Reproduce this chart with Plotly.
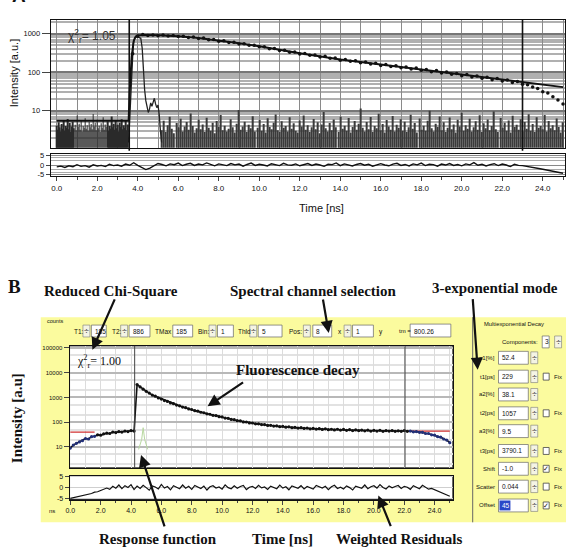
import numpy as np
import plotly.graph_objects as go

W, H = 571, 560
def px(x): return x / W
def py(y): return 1 - y / H

# ================= DATA =================
# ---- Panel A ----
# background counts before the excitation pulse (t = 0.00 .. 3.50, 0.05 ns steps)
a_bg_t = np.round(np.arange(71) * 0.05, 3)
a_bg_counts = [3.1,2.2,4.0,2.7,1.9,3.5,2.4,4.6,2.0,3.0,2.6,5.1,2.3,3.8,1.8,2.9,4.2,2.5,3.3,2.1,
               6.5,2.8,3.6,2.2,4.4,1.9,3.0,2.6,5.4,2.4,3.2,2.0,4.1,2.7,3.5,2.3,7.2,2.9,3.9,2.1,
               4.8,2.5,3.1,1.8,3.7,2.6,5.8,2.2,3.4,2.8,4.3,2.0,3.0,2.4,6.1,2.7,3.6,2.2,4.7,2.5,
               3.3,1.9,3.9,2.8,5.0,2.3,3.2,2.6,4.5,2.1,3.4]
# IRF tail noise (t = 5.2 .. 25, 0.1 ns steps)
a_noise_counts = [2.1,4.5,1.8,3.2,6.0,2.4,1.6,3.8,2.7,5.2,1.9,2.9,4.1,2.2,7.5,3.0,1.7,2.5,4.8,2.3,
                  3.4,1.8,5.6,2.6,2.0,3.9,1.6,4.4,2.8,6.8,2.1,3.1,1.9,2.4,5.0,2.7,1.7,3.6,9.5,2.2,
                  2.9,4.2,1.8,3.3,2.5,6.2,1.9,2.6,4.7,2.0,3.5,1.7,5.4,2.8,2.3,3.9,7.0,2.1,1.8,4.3,
                  2.6,3.0,1.9,5.8,2.4,3.7,2.0,1.7,4.6,2.9,6.5,2.2,3.2,1.8,2.7,5.1,2.3,4.0,1.6,3.4,
                  8.2,2.5,1.9,3.8,2.1,4.9,2.7,1.8,6.0,2.4,3.1,2.0,5.5,1.7,2.8,4.4,2.2,3.6,10.5,2.6,
                  1.9,4.1,2.3,5.9,1.8,3.0,2.5,7.3,2.1,3.5,1.7,4.7,2.9,2.2,6.3,1.9,3.3,2.6,5.0,2.0,
                  4.2,1.8,2.7,6.9,2.4,3.8,1.7,5.3,2.2,3.1,2.0,4.5,9.0,2.5,1.9,3.6,2.8,6.1,2.1,4.0,
                  1.8,2.6,5.7,2.3,3.4,1.7,4.8,2.9,7.8,2.0,3.2,2.4,5.2,1.9,2.7,4.3,2.2,6.6,1.8,3.7,
                  2.5,4.9,2.1,3.0,8.6,2.3,1.8,5.5,2.6,3.9,2.0,4.6,1.7,6.4,2.8,3.3,2.2,5.0,1.9,4.1,
                  2.4,7.1,2.0,3.5,1.8,5.8,2.6,3.0,2.3,6.7,1.9,4.4,2.5,3.2,2.1,5.3,2.8,1.7,4.0]
a_noise_t = np.round(5.2 + np.arange(len(a_noise_counts)) * 0.1, 3)
# instrument response function peak
a_irf_t = [3.55,3.65,3.72,3.78,3.85,3.95,4.05,4.15,4.22,4.28,4.34,4.40,4.46,4.52,4.58,4.64,4.70,4.76,4.82,4.88,4.94,5.00,5.06,5.12,5.18]
a_irf_y = [1.5,20,180,560,780,820,800,760,420,90,35,18,12,9,11,16,13,18,21,15,12,14,8,3,1.5]
# fitted decay
a_fit_t = [0,3.55,3.6,3.7,3.8,3.9,4.0,4.3,5,6,7,8,9,10,11,12,14,16,18,20,22,23,24,25]
a_fit_y = [5.5,5.5,30,250,650,850,900,920,905,865,775,670,565,470,380,310,215,158,118,86,63,54,47,41]
# measured decay (t = 3.75 .. 25, 0.25 ns steps)
a_dec_y = [300,870,950,900,930,890,920,870,895,840,865,800,815,750,770,700,710,640,655,595,
           600,540,550,500,505,455,460,405,415,365,372,330,336,298,305,276,281,250,258,229,
           233,205,214,193,199,176,184,163,170,150,158,140,148,130,137,121,128,112,118,103,
           110,95,101,88,93,81,87,75,80,70,74,64,69,59,63,54,57,49,47,41,38,31,29,23,19,15]
a_dec_t = np.round(3.75 + np.arange(len(a_dec_y)) * 0.25, 3)
# weighted residuals (t = 0 .. 25, 0.2 ns steps)
a_res = [-1.0,-0.6,-1.3,-0.4,-0.9,0.2,-0.7,-0.3,-1.1,0.1,-0.5,-0.2,-0.8,0.4,-0.3,0.0,-0.6,0.5,-0.1,1.2,
         -0.2,-1.5,-2.4,-1.6,-0.5,0.8,0.3,-0.4,0.6,0.2,1.0,-0.3,0.4,0.9,-0.2,0.5,0.1,1.1,0.3,-0.4,
         0.6,0.2,-0.3,0.8,0.1,0.5,-0.6,0.3,1.0,-0.2,0.4,0.0,-0.5,0.7,0.2,-0.3,0.9,0.1,-0.1,0.6,
         -0.4,0.3,0.8,-0.2,0.5,0.0,-0.7,0.4,0.2,1.1,-0.3,0.6,0.1,-0.5,0.3,0.8,-0.1,0.4,-0.6,0.2,
         0.7,0.0,-0.4,0.5,0.9,-0.2,0.3,-0.5,0.6,0.1,1.0,-0.3,0.4,0.2,-0.6,0.5,0.0,0.8,-0.2,0.3,
         -0.4,0.6,0.1,1.3,-0.1,0.4,-0.5,0.2,0.7,-0.3,0.5,0.0,-0.8,0.4,-0.2,-0.3,-0.6,-1.0,-1.3,-1.8,
         -2.2,-2.6,-3.0,-3.4,-3.9,-4.3]
a_res_t = np.round(np.arange(len(a_res)) * 0.2, 3)
a_cursors = [3.58, 23.0]
a_chi = "1.05"

# ---- Panel B ----
b_dec_y = [9,12,14,16,18,22,21,26,27,31,30,34,36,35,40,38,42,40,44,42,
           46,44,3300,2650,2150,1760,1500,1250,1120,950,860,750,690,600,560,490,460,410,385,345,
           326,293,280,252,241,218,210,190,185,168,163,147,143,130,127,115,114,103,102,94,
           93,86,86,80,80,74,75,70,71,66,68,63,65,60,62,58,60,56,58,54,
           56,53,55,51,54,50,52,49,52,48,51,47,50,46,49,46,48,45,48,44,
           47,44,47,43,46,44,46,43,45,43,46,43,44,41,42,39,39,35,35,31,
           30,26,25,21,19,15]
b_dec_t = np.round(np.arange(len(b_dec_y)) * 0.2, 3)
b_fit_t = [0, 1.6, None, 22.4, 25.0]
b_fit_y = [40, 40, None, 44, 44]
b_irf_t = [4.5, 4.7, 4.8, 4.9, 5.1]
b_irf_y = [8, 20, 60, 20, 8]
b_res = [-5.0,-4.7,-4.3,-4.1,-3.6,-3.4,-2.9,-2.7,-2.1,-1.9,-1.3,-0.9,-0.2,-0.8,0.6,-0.3,1.2,-0.5,0.9,0.1,
         1.4,-0.9,0.7,-0.4,1.1,0.0,-1.2,0.8,0.3,-0.6,1.5,-0.2,0.5,-1.0,0.9,0.2,-0.5,1.2,-0.3,0.6,
         -0.8,1.0,0.1,-0.4,0.7,-1.1,0.4,0.9,-0.2,0.3,-0.7,1.3,0.0,-0.5,0.8,-0.3,0.5,1.0,-0.9,0.2,
         0.6,-0.4,1.1,-0.1,0.3,-0.8,0.7,0.2,-0.5,1.2,-0.2,0.4,-1.0,0.8,0.1,-0.3,0.9,-0.6,0.5,0.0,
         -0.7,1.0,0.3,-0.2,0.6,-0.9,0.4,1.1,-0.4,0.2,-0.6,0.8,0.0,-1.1,0.7,0.3,-0.3,1.2,-0.5,0.4,
         0.9,-0.2,1.4,0.1,-0.6,0.8,-0.1,0.5,1.0,-0.4,0.6,0.2,-0.8,0.9,0.3,-0.5,1.1,0.0,-0.7,-0.4,
         -1.0,-1.6,-2.1,-2.9,-3.4,-4.0]
b_res_t = np.round(np.arange(len(b_res)) * 0.2, 3)
b_cursors = [4.24, 22.05]
b_chi = "1.00"

x_tick_vals = [0, 2, 4, 6, 8, 10, 12, 14, 16, 18, 20, 22, 24]
x_tick_text = ["0.0", "2.0", "4.0", "6.0", "8.0", "10.0", "12.0", "14.0", "16.0", "18.0", "20.0", "22.0", "24.0"]
a_y_ticks = [10, 100, 1000]
b_y_ticks = [10, 100, 1000, 10000, 100000]

toolbar_fields = [("T1:", "185"), ("T2:", "886"), ("TMax", "185"), ("Bin:", "1"), ("Thld", "5"), ("Pos:", "8"), ("x", "1")]
param_labels = ["a1[%]", "t1[ps]", "a2[%]", "t2[ps]", "a3[%]", "t3[ps]", "Shift", "Scatter", "Offset"]
param_values = ["52.4", "229", "38.1", "1057", "9.5", "3790.1", "-1.0", "0.044", "45"]
param_fix = [None, False, None, False, None, False, True, False, True]

# ================= FIGURE =================
SANS = "Liberation Sans, Arial"
SERIF = "Liberation Serif, Times New Roman"
fig = go.Figure()

# ---- Panel A traces ----
fig.add_trace(go.Bar(x=a_bg_t, y=a_bg_counts, base=1, width=0.03, marker=dict(color="#2a2a2a", line_width=0),
                     xaxis="x", yaxis="y"))
fig.add_trace(go.Bar(x=a_noise_t, y=a_noise_counts, base=1, width=0.055, marker=dict(color="#3a3a3a", line_width=0),
                     xaxis="x", yaxis="y"))
fig.add_trace(go.Scatter(x=a_irf_t, y=a_irf_y, mode="lines", line=dict(color="#222", width=1.3), xaxis="x", yaxis="y"))
fig.add_trace(go.Scatter(x=a_fit_t, y=a_fit_y, mode="lines", line=dict(color="#111", width=2), xaxis="x", yaxis="y"))
fig.add_trace(go.Scatter(x=a_dec_t, y=a_dec_y, mode="markers", marker=dict(color="#111", size=3.5), xaxis="x", yaxis="y"))
fig.add_trace(go.Scatter(x=a_res_t, y=a_res, mode="lines", line=dict(color="#111", width=1.4), xaxis="x2", yaxis="y2"))

# ---- Panel B traces ----
fig.add_trace(go.Scatter(x=b_fit_t, y=b_fit_y, mode="lines", line=dict(color="#d03030", width=1.2), xaxis="x3", yaxis="y3"))
fig.add_trace(go.Scatter(x=b_irf_t, y=b_irf_y, mode="lines", line=dict(color="#b8d8a0", width=1), xaxis="x3", yaxis="y3"))
b_colors = ["#22307a" if (t < 1.7 or t > 22.3) else "#111" for t in b_dec_t]
fig.add_trace(go.Scatter(x=b_dec_t, y=b_dec_y, mode="lines+markers", line=dict(color="#111", width=1.6),
                         marker=dict(color=b_colors, size=3.2), xaxis="x3", yaxis="y3"))
fig.add_trace(go.Scatter(x=b_res_t, y=b_res, mode="lines", line=dict(color="#111", width=1.2), xaxis="x4", yaxis="y4"))

ax_common = dict(showline=True, linecolor="#111", mirror=True, zeroline=False)
a_dom_x = [px(47), px(565)]
b_dom_x = [px(66), px(452)]
a_minor = [m * 10 ** e for e in range(0, 4) for m in range(2, 10)]
b_minor = [m * 10 ** e for e in range(0, 5) for m in (2, 5)]

fig.update_layout(
    width=W, height=H, autosize=False, margin=dict(l=0, r=0, t=0, b=0),
    paper_bgcolor="white", plot_bgcolor="white", showlegend=False, barmode="overlay",
    font=dict(family=SANS, color="#111"),
    xaxis=dict(domain=a_dom_x, anchor="y", range=[-0.3, 25.1], showticklabels=False, dtick=1,
               showgrid=True, gridcolor="#8a8a8a", gridwidth=1, **ax_common),
    yaxis=dict(domain=[py(147), py(18)], anchor="x", type="log", range=[0.04, 3.36],
               tickvals=a_y_ticks, ticktext=[str(v) for v in a_y_ticks], ticks="outside", ticklen=8,
               tickfont=dict(size=7.5), showgrid=True, gridcolor="#777", gridwidth=1.5,
               minor=dict(tickvals=a_minor, showgrid=True, gridcolor="#b0b0b0", ticks=""), **ax_common),
    xaxis2=dict(domain=a_dom_x, anchor="y2", range=[-0.3, 25.1], tickvals=x_tick_vals, ticktext=x_tick_text,
                ticks="outside", ticklen=4, tickfont=dict(size=8), showgrid=False,
                minor=dict(dtick=1, ticks="outside", ticklen=3), **ax_common),
    yaxis2=dict(domain=[py(176), py(153)], anchor="x2", range=[-6, 6], tickvals=[-5, 0, 5],
                ticktext=["-5", "0", "5"], ticks="outside", ticklen=4, tickfont=dict(size=7.5),
                showgrid=True, gridcolor="#888",
                minor=dict(tickvals=[-4, -2.5, 2.5, 4], showgrid=True, gridcolor="#aaa", ticks=""), **ax_common),
    xaxis3=dict(domain=b_dom_x, anchor="y3", range=[-0.05, 25.2], showticklabels=False, dtick=1,
                showgrid=True, gridcolor="#dcdcdc", **ax_common),
    yaxis3=dict(domain=[py(470), py(347)], anchor="x3", type="log", range=[0.16, 5.08],
                tickvals=b_y_ticks, ticktext=[str(v) for v in b_y_ticks], ticks="outside", ticklen=5,
                tickfont=dict(size=6), showgrid=True, gridcolor="#b8b8b8", gridwidth=1.5,
                minor=dict(tickvals=b_minor, showgrid=True, gridcolor="#e2e2e2", ticks=""), **ax_common),
    xaxis4=dict(domain=b_dom_x, anchor="y4", range=[-0.05, 25.2], tickvals=x_tick_vals, ticktext=x_tick_text,
                ticks="outside", ticklen=4, tickfont=dict(size=7), showgrid=False,
                minor=dict(dtick=1, ticks="outside", ticklen=2), **ax_common),
    yaxis4=dict(domain=[py(502), py(478)], anchor="x4", range=[-5.5, 5.5], tickvals=[-5, 0, 5],
                ticktext=["-5", "0", "5"], ticks="outside", ticklen=4, tickfont=dict(size=7),
                showgrid=True, gridcolor="#cfcfcf", **ax_common),
)

shapes = []
def rect(x0, y0, x1, y1, fill="white", line="#555", lw=0.8, layer="below"):
    shapes.append(dict(type="rect", xref="paper", yref="paper", x0=px(x0), x1=px(x1), y0=py(y1), y1=py(y0),
                       fillcolor=fill, line=dict(color=line, width=lw), layer=layer))
def pline(x0, y0, x1, y1, color="#444", lw=1):
    shapes.append(dict(type="line", xref="paper", yref="paper", x0=px(x0), x1=px(x1), y0=py(y0), y1=py(y1),
                       line=dict(color=color, width=lw), layer="below"))

# yellow software window and white plot areas of panel B
rect(37, 318, 566, 525, fill="#fbfb9e", line="#fbfb9e", lw=0)
rect(66, 347, 452, 470, fill="white", line="#222", lw=1)
rect(66, 478, 452, 502, fill="white", line="#222", lw=1)
pline(472, 318, 472, 525, color="#666", lw=1)

# cursors
for c in a_cursors:
    shapes.append(dict(type="line", xref="x", yref="paper", x0=c, x1=c, y0=py(150), y1=py(18),
                       line=dict(color="#111", width=1.6), layer="above"))
for c in b_cursors:
    shapes.append(dict(type="line", xref="x3", yref="paper", x0=c, x1=c, y0=py(470), y1=py(347),
                       line=dict(color="#444", width=1), layer="above"))

ann = []
def text(x, y, s, size=7, xa="left", ya="middle", family=SANS, color="#111", angle=0):
    ann.append(dict(x=px(x), y=py(y), xref="paper", yref="paper", text=s, showarrow=False, xanchor=xa,
                    yanchor=ya, font=dict(size=size, family=family, color=color), textangle=angle))
def arrow(hx, hy, tx, ty):
    ann.append(dict(x=px(hx), y=py(hy), ax=tx - hx, ay=ty - hy, xref="paper", yref="paper", axref="pixel",
                    ayref="pixel", text="", showarrow=True, arrowhead=2, arrowsize=1.1, arrowwidth=2.2,
                    arrowcolor="#111"))
def spinner(x, y):
    rect(x - 3.5, y - 6, x + 3.5, y + 6, fill="#f4f4e4", line="#777", lw=0.6)
    text(x, y, "÷", size=9, xa="center", color="#333")

# ---- Panel A texts ----
text(15, 6, "<b>A</b>", size=19, xa="center", ya="bottom")
text(10, 72, "Intensity [a.u.]", size=11, xa="center", angle=-90)
text(320, 208, "Time [ns]", size=11, xa="center")
text(62, 34, "χ<sup>2</sup><sub>r</sub>= " + a_chi, size=12, color="#333")

# ---- Panel B toolbar ----
text(41, 322, "counts", size=5.5)
tb_y = 332
tb_layout = [(68, 83, 88, 103), (107, 121, 126, 147), (150, None, 170, 190), (193, 210, 215, 231),
             (234, 251, 256, 280), (285, 305, 311, 330), (334, 346, 351, 372)]
for (lab, val), (lx, sx, bx0, bx1) in zip(toolbar_fields, tb_layout):
    text(lx, tb_y, lab, size=6.5)
    if sx is not None:
        spinner(sx, tb_y)
    rect(bx0, tb_y - 6, bx1, tb_y + 6, fill="white", line="#666", lw=0.7)
    text(bx0 + 1.5, tb_y, val, size=6.5)
text(376, tb_y + 1, "y", size=6.5)
text(396, tb_y, "tm =", size=6)
rect(409, tb_y - 7, 450, tb_y + 6, fill="white", line="#666", lw=0.7)
text(411, tb_y, "800.26", size=6.5)

# ---- Panel B right parameter panel ----
text(514, 325, "Multiexponential Decay", size=5.8, xa="center")
text(540, 343, "Components:", size=6, xa="right")
rect(542, 337, 549, 349, fill="white", line="#666", lw=0.7)
text(543, 343, "3", size=6.5)
spinner(558, 343)
row_y = [359, 378, 396, 415, 433, 453, 471, 489, 508]
for lab, val, fx, y in zip(param_labels, param_values, param_fix, row_y):
    text(496, y, lab, size=6, xa="right")
    rect(498, y - 6.5, 528, y + 6.5, fill="white", line="#666", lw=0.7)
    if lab == "Offset":
        rect(499, y - 5, 510, y + 5, fill="#2a48c8", line="#2a48c8", lw=0)
        text(500, y, val, size=6.5, color="white")
    else:
        text(500, y, val, size=6.5)
    spinner(534, y)
    if fx is not None:
        rect(543, y - 3.5, 549, y + 3.5, fill="white", line="#444", lw=0.8)
        if fx:
            text(546, y, "✓", size=7, xa="center")
        text(552, y, "Fix", size=6)

# axis small label
text(43, 514, "ns", size=6)
text(72, 363, "χ<sup>2</sup><sub>r</sub>= " + b_chi, size=12, family=SERIF)

# ---- Panel B annotations ----
text(11, 287, "<b>B</b>", size=19, xa="center", family=SERIF)
text(108, 292, "<b>Reduced Chi-Square</b>", size=15, xa="center", family=SERIF)
text(311, 292, "<b>Spectral channel selection</b>", size=15, xa="center", family=SERIF)
text(494, 289, "<b>3-exponential mode</b>", size=15, xa="center", family=SERIF)
text(296, 371, "<b>Fluorescence decay</b>", size=15, xa="center", family=SERIF)
text(155, 542, "<b>Response function</b>", size=15, xa="center", family=SERIF)
text(280, 542, "<b>Time [ns]</b>", size=15, xa="center", family=SERIF)
text(398, 542, "<b>Weighted Residuals</b>", size=15, xa="center", family=SERIF)
text(13, 420, "<b>Intensity [a.u]</b>", size=15, xa="center", family=SERIF, angle=-90)

arrow(89, 351, 112, 299)
arrow(327, 334, 321, 299)
arrow(477, 371, 472, 299)
arrow(205, 408, 242, 383)
arrow(138, 457, 162, 530)
arrow(377, 498, 390, 530)

fig.update_layout(shapes=shapes, annotations=ann)
fig.write_html("out.html")
